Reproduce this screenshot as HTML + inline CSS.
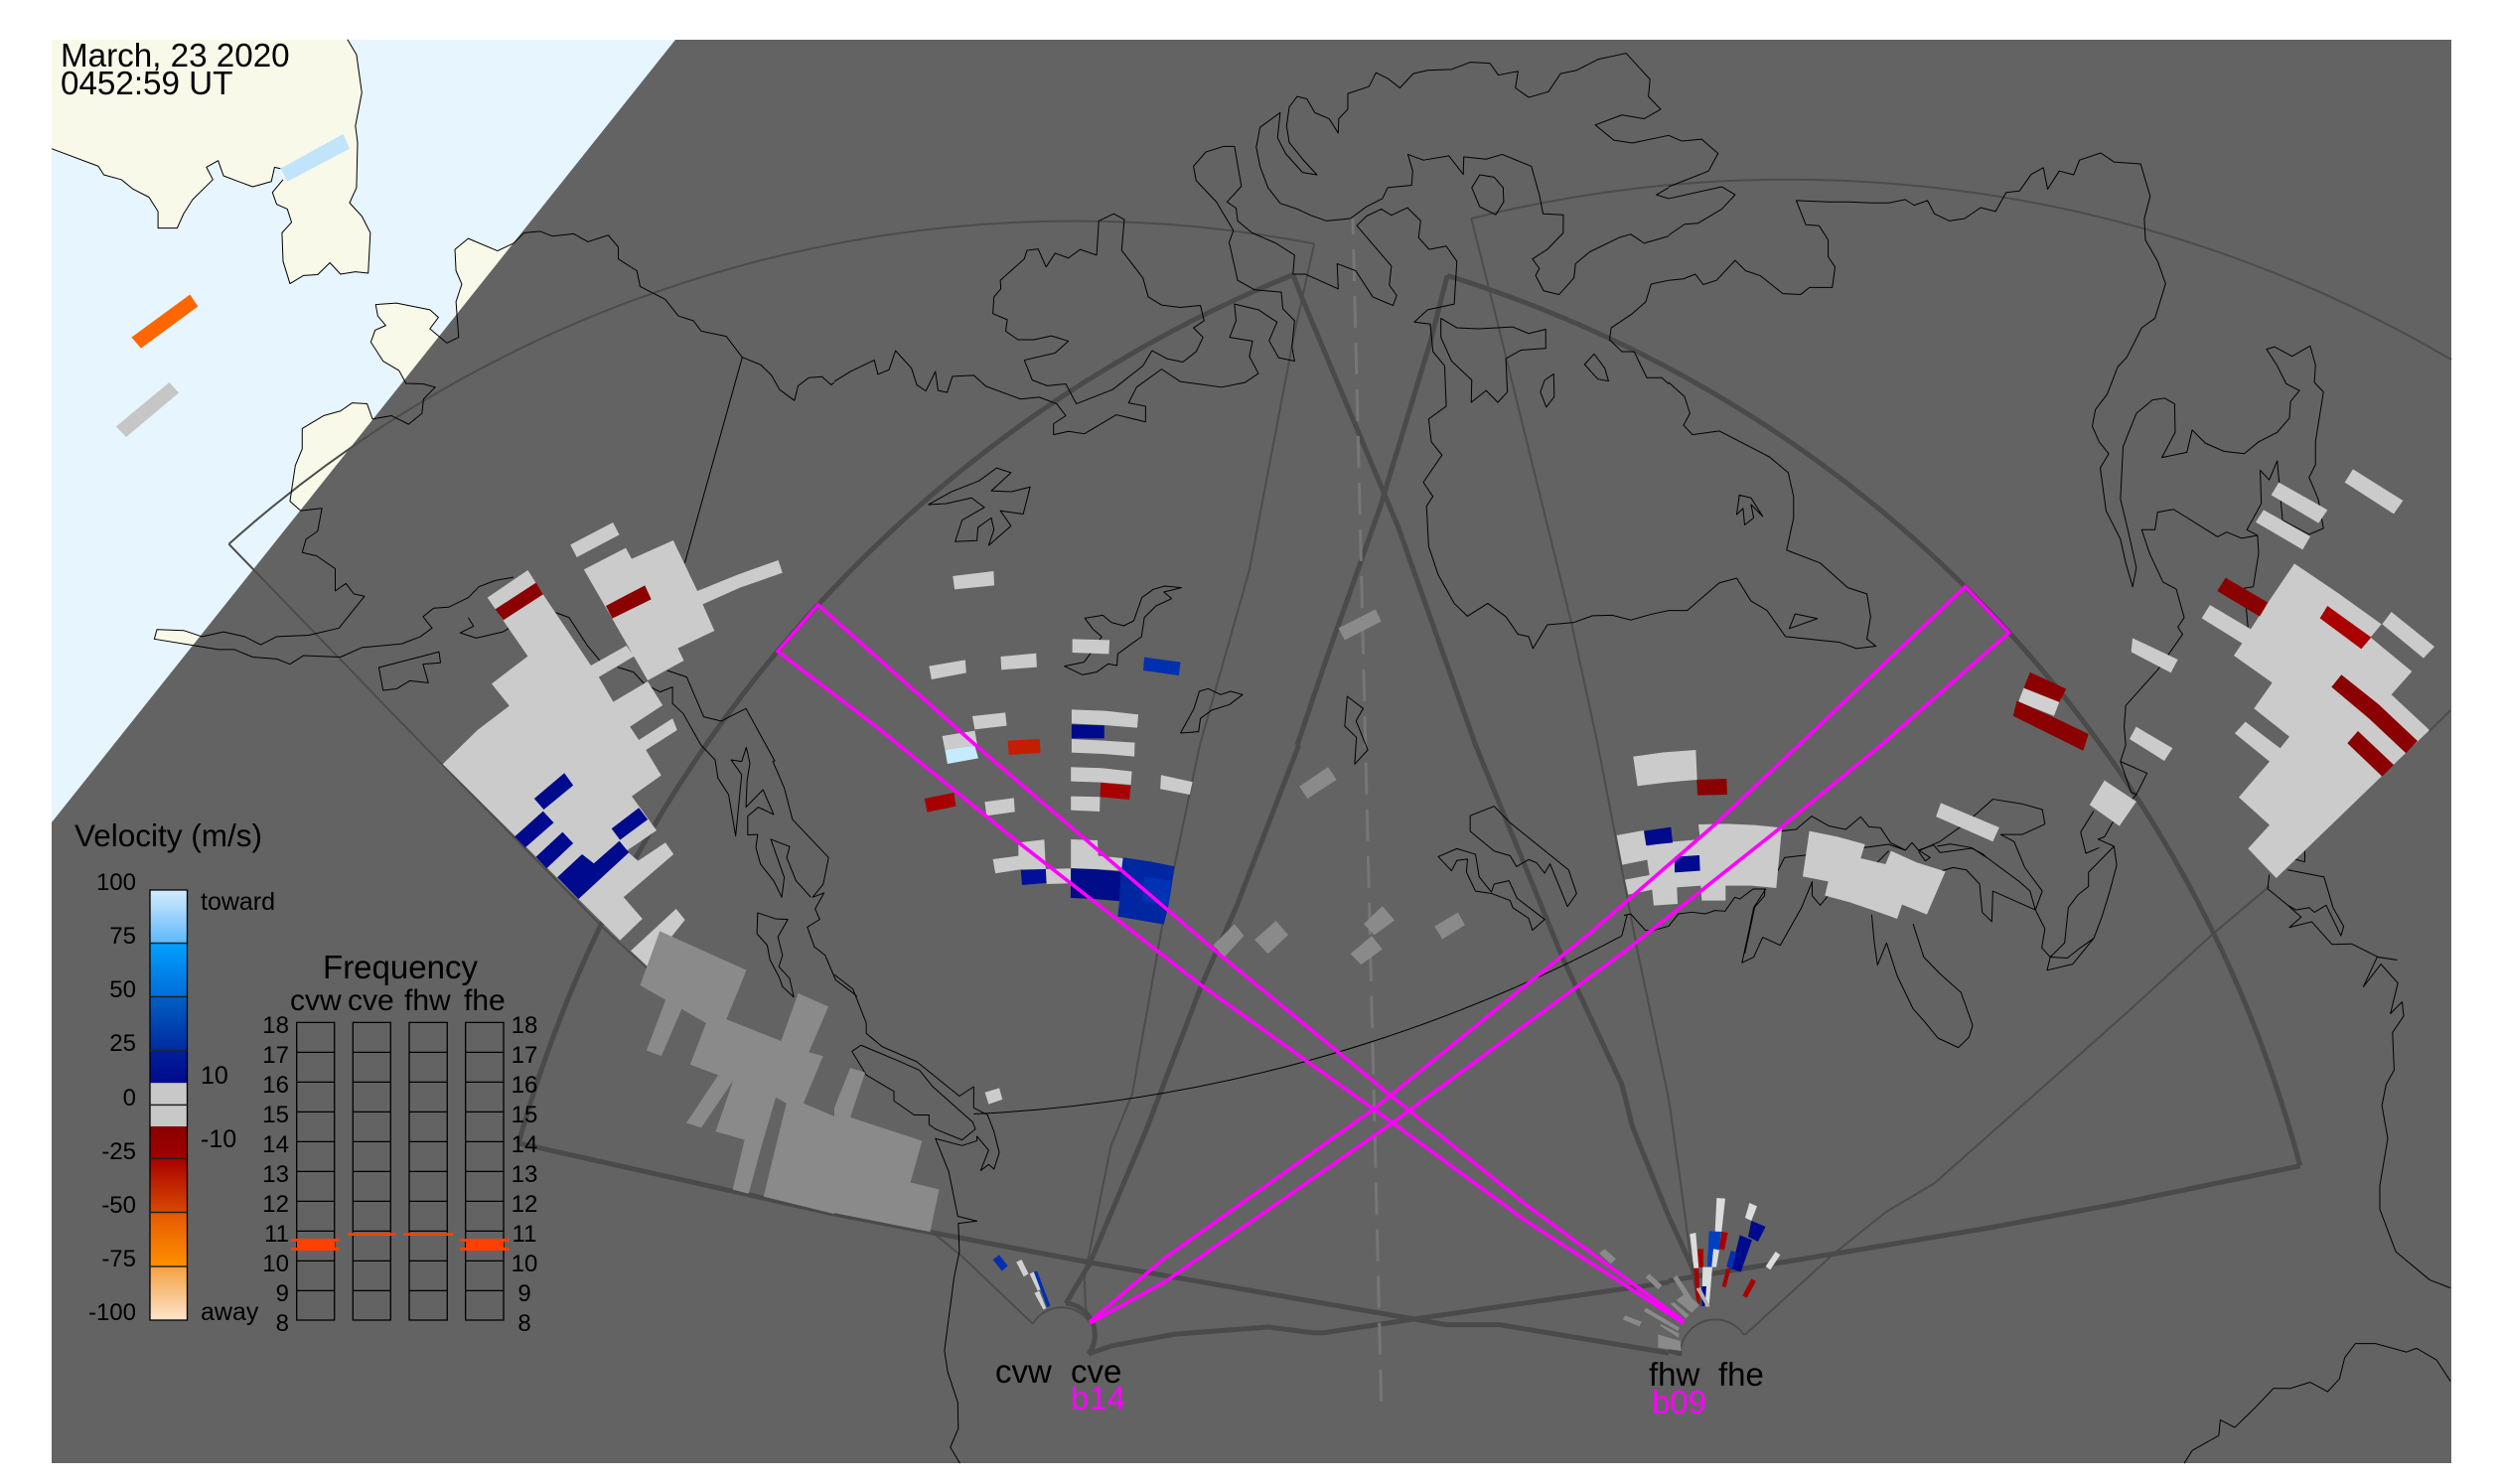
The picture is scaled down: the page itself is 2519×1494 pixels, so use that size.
<!DOCTYPE html>
<html><head><meta charset="utf-8"><title>SuperDARN</title>
<style>
html,body{margin:0;padding:0;background:#fff}
svg{display:block}
polyline,polygon,path,line,rect{vector-effect:non-scaling-stroke}
.c polyline,.c polygon,.c path{fill:none;stroke:#000;stroke-width:1;stroke-linejoin:round}
.k polyline,.k polygon,.k path{fill:none;stroke:#4a4a4a;stroke-width:5;stroke-linejoin:miter}
.t polyline,.t path{fill:none;stroke:#4c4c4c;stroke-width:2}
.g polygon{fill:#cbcbcb}
.d polygon{fill:#8a8a8a}
.n{fill:#000a8c}.b{fill:#0030b0}.r{fill:#8b0000}.r2{fill:#a80000}.w{fill:#dcdcdc}
.m polyline{fill:none;stroke:#ff00ff;stroke-width:3.6;stroke-linejoin:miter}
text{font-family:"Liberation Sans",sans-serif;fill:#000}
.f24{font-size:24px}.f25{font-size:25px}.e{text-anchor:end}.mid{text-anchor:middle}
</style></head><body>
<svg width="2519" height="1494" viewBox="0 0 2519 1494" xmlns="http://www.w3.org/2000/svg">
<defs>
<linearGradient id="cb" gradientUnits="userSpaceOnUse" x1="0" y1="896" x2="0" y2="1329">
<stop offset="0" stop-color="#d4ecfb"/><stop offset=".122" stop-color="#5fb8fb"/>
<stop offset=".123" stop-color="#00a0ff"/><stop offset=".247" stop-color="#006ed8"/>
<stop offset=".248" stop-color="#0060c4"/><stop offset=".373" stop-color="#002aa0"/>
<stop offset=".374" stop-color="#00209a"/><stop offset=".448" stop-color="#000a8c"/>
<stop offset=".449" stop-color="#c8c8c8"/><stop offset=".549" stop-color="#c8c8c8"/>
<stop offset=".55" stop-color="#8b0000"/><stop offset=".623" stop-color="#a00000"/>
<stop offset=".624" stop-color="#a80000"/><stop offset=".748" stop-color="#d84800"/>
<stop offset=".749" stop-color="#e45800"/><stop offset=".873" stop-color="#ff9000"/>
<stop offset=".874" stop-color="#f4a040"/><stop offset="1" stop-color="#fde4cc"/>
</linearGradient>
</defs>
<rect width="2519" height="1494" fill="#fff"/>
<rect x="52" y="40" width="2416" height="1433" fill="#e7f5ff"/>

<!-- land in sunlit area -->
<g transform="scale(.5357,.4783)" fill="#f9f9ea">
<polygon points="97,83 97,313 185,350 195,368 228,378 250,398 280,415 297,445 297,480 333,480 345,450 362,420 400,378 388,352 410,338 420,370 448,382 475,393 510,382 516,352 527,355 532,378 512,405 520,430 540,440 548,468 530,490 532,550 545,597 570,580 597,578 620,553 640,577 668,572 692,575 696,490 680,455 657,427 670,395 672,300 668,265 680,195 670,115 653,83"/>
<polygon points="855,525 880,502 935,528 985,490 1000,600 880,720 862,710 857,635 868,598 857,570"/>
<polygon points="706,641 745,638 808,652 824,668 808,692 840,722 800,800 763,807 750,780 720,760 697,720 705,695 725,685 710,665"/>
<polygon points="700,882 690,850 662,848 640,865 608,875 568,902 568,945 555,980 545,1055 565,1075 700,1000 760,880"/>
<polygon points="295,1325 345,1327 380,1340 400,1340 400,1360 355,1357 290,1345"/>
</g>
<g transform="scale(.5357,.4783)">
<polygon points="527,355 645,282 657,313 540,382" fill="#c2e4fb"/>
<polygon points="247,710 357,620 372,645 265,733" fill="#ff6600"/>
<polygon points="218,898 318,805 336,827 237,920" fill="#c6c6c6"/>
</g>

<!-- dark overlay -->
<polygon points="680,40 2468,40 2468,1473 52,1473 52,828" fill="#636363"/>

<!-- thin fov lines -->
<g class="t">
<path d="M230.4 547.7A1278 1278 0 0 1 1323.2 245.4"/>
<path d="M1481.2 220A1319 1319 0 0 1 2468 362"/>
<path d="M1039.8 1332.7A34 34 0 0 1 1097 1331"/>
<path d="M1692 1360A35 35 0 0 1 1756 1344"/>
<g transform="scale(.5357,.4783)">
<polyline points="795,1568 430,1145"/>
</g>
<g transform="translate(840,0) scale(.5357,.4783)">
<polyline points="902,513 865,700 780,1200 687,1568"/>
<polyline points="1197,460 1240,650 1385,1310 1435,1568"/>
</g>
<g transform="translate(1680,0) scale(.5351,.4783)">
<polyline points="1471,1495 1430,1540"/>
</g>
<g transform="translate(0,750) scale(.5357,.4745)">
<polyline points="795,0 1140,395 1330,590 1568,820"/>
</g>
<g transform="translate(840,750) scale(.5357,.4745)">
<polyline points="0,820 180,1030 240,1085 373,1228"/>
<polyline points="478,1225 472,1190 470,1130 520,850 560,740 620,360 687,0"/>
<polyline points="1435,0 1510,440 1568,750"/>
</g>
<g transform="translate(1680,750) scale(.5351,.4745)">
<polyline points="0,750 25,950 45,1120"/>
<polyline points="1130,300 1025,400 860,570 500,930 410,990 310,1080 143,1252"/>
</g>
</g>

<!-- thick fov lines -->
<g class="k">
<path d="M522 1151A1331 1331 0 0 1 1302 276.5"/>
<path d="M1457 277.4A1281.4 1281.4 0 0 1 2315.7 1173.7"/>
<path d="M1073 1312A32 32 0 0 1 1096 1363"/>
<g transform="translate(840,0) scale(.5357,.4783)">
<polyline points="862,578 880,630 1000,950 1060,1110 1205,1568"/>
<polyline points="1152,580 1120,720 1025,1070 930,1370 870,1568"/>
</g>
<g transform="translate(0,750) scale(.5357,.4745)">
<polyline points="975,845 1568,995"/>
</g>
<g transform="translate(840,750) scale(.5357,.4745)">
<polyline points="0,995 480,1098 1150,1230 1250,1230 1568,1290"/>
<polyline points="1205,0 1370,455 1480,720 1500,810 1568,1000"/>
<polyline points="873,0 755,345 690,510 585,820 480,1100 435,1185"/>
<polyline points="478,1292 520,1275 640,1250 815,1235 900,1247 920,1247 1090,1218 1568,1140"/>
</g>
<g transform="translate(1680,750) scale(.5351,.4745)">
<polyline points="0,1137 320,1078 600,1025 860,970 1188,893"/>
<polyline points="0,1000 45,1110 60,1190"/>
<polyline points="0,1285 25,1292"/>
</g>
</g>

<!-- dashed centre -->
<line x1="1362" y1="220" x2="1390.7" y2="1414" stroke="#767676" stroke-width="3" stroke-dasharray="32 15" stroke-dashoffset="16"/>

<!-- coastlines -->
<g class="c">
<path d="M980.4 1121.5A1546 1546 0 0 0 1632.8 942.2"/>
<g transform="scale(.5357,.4783)">
<polyline points="97,313 185,350 195,368 228,378 250,398 280,415 297,445 297,480 333,480 345,450 362,420 400,378 388,352 410,338 420,370 448,382 475,393 510,382 516,352 527,355"/>
<polyline points="532,378 512,405 520,430 540,440 548,468 530,490 532,550 545,597 570,580 597,578 620,553 640,577 668,572 692,575 696,490 680,455 657,427 670,395 672,300 668,265 680,195 670,115 653,83"/>
<polyline points="1568,805 1562,810 1545,793 1520,795 1500,812 1493,843 1465,820 1450,790 1430,768 1395,752 1365,708 1318,697 1303,675 1275,665 1250,630 1203,603 1197,570 1162,545 1162,520 1143,495 1105,509 1078,492 1038,497 1015,487 985,490 965,512 935,528 880,502 855,525 857,570 868,598 857,635 862,710 840,722 808,692 824,668 808,652 745,638 706,641 710,665 725,685 705,695 697,720 720,760 750,780 763,807 795,808 818,815 796,840 793,870 768,893 736,875 700,882 690,850 662,848 640,865 608,875 568,902 568,945 555,980 545,1055 565,1075 605,1070 597,1118 575,1135 568,1163 595,1170 630,1197 630,1244 650,1228 665,1250 685,1255 637,1322 580,1337 520,1340 490,1357 460,1340 420,1330 380,1340 345,1327 295,1325 290,1345 355,1357 410,1367 440,1367 475,1383 520,1387 545,1398 570,1380 640,1383 680,1363 755,1355 790,1340 812,1322 795,1298 815,1280 843,1278 880,1258 900,1235 930,1222 965,1215"/>
<polyline points="960,1320 945,1330 895,1343 865,1332 890,1318 880,1300"/>
<polygon points="712,1405 825,1372 828,1395 795,1398 805,1437 770,1433 745,1450 720,1453"/>
<polyline points="1395,752 1287,1185"/>
</g>
<g transform="translate(420,500) scale(.3571,.3333)">
<polyline points="390,350 428,365 480,450 515,495"/>
<polyline points="565,515 610,530 640,565 685,590 720,575 720,625 750,655 800,750 840,795 848,850 878,900 898,1025 915,840 885,795 915,800 928,757 938,805 930,860 927,938 975,885 1005,960 962,938 932,965 932,1022 960,1020 955,1060 968,1110 1005,1160 1028,1210 1035,1150 997,1035 1050,1057 1042,1090 1068,1160 1110,1210"/>
<polyline points="705,525 760,545 808,665 858,678 880,665 927,640 1008,798 1003,800 1035,880 1058,975 1160,1090 1145,1170 1115,1210 1147,1197 1122,1245 1135,1277 1100,1300 1120,1360 1150,1385 1180,1460 1230,1500 1240,1510"/>
<polyline points="1062,1512 1050,1455 1020,1420 1030,1385 1017,1330 1045,1277 1010,1275 960,1257 958,1320 987,1355 995,1400 1020,1450 1030,1480 1062,1512"/>
</g>
<g transform="translate(840,750) scale(.5357,.4745)">
<polyline points="0,487 35,518 60,590 60,612 90,640 155,672 235,745 262,725 262,770 288,785 300,820 310,865 300,900 290,890 275,903 290,860 268,830"/>
<polygon points="33,650 50,637 120,670 160,690 185,725 260,800 265,815 240,838 190,815 178,805 178,785 150,785 112,755 112,735 60,700"/>
<polyline points="268,830 268,840 240,850 190,835 215,905 232,1000 268,1010 233,1015 235,1075 225,1130 207,1285 213,1330 232,1395 233,1450 218,1490 236,1524"/>
<polygon points="1195,150 1240,130 1270,165 1380,265 1395,315 1378,343 1345,252 1335,272 1320,250 1305,243 1282,258 1270,235 1240,225 1195,183"/>
<polygon points="1135,237 1170,220 1205,232 1212,280 1235,312 1240,295 1268,288 1283,325 1335,370 1312,393 1305,368 1275,345 1270,330 1235,315 1205,310 1188,270 1190,242 1170,245 1160,267"/>
<polyline points="1480,405 1490,360"/>
</g>
<g transform="translate(840,0) scale(.5357,.4783)">
<polyline points="0,803 30,782 75,758 82,788 103,778 115,738 145,775 155,810 172,823 190,782 195,822 212,826 222,792 262,790 285,813 350,840 385,836 418,850 435,875 412,892 412,915 440,908 470,913 530,873 585,888 585,855 553,848 568,815 615,777 650,803 728,815 772,805 797,786 780,750 786,718 743,710 755,675 752,640 797,652 832,678 817,717 835,753 865,760 860,730 865,675 843,650 840,615 790,610 758,590 742,510 750,485 718,425 680,380 675,350 698,320 732,308 752,308 765,392 738,425 755,438 758,465 785,490 830,512 865,537 862,577 885,577 947,608 945,555 980,570 1012,625 1050,643 1057,622 1043,600 1047,560 982,475 1000,455 1028,440 1047,453 1077,437 1102,465 1098,500 1118,525 1150,518 1170,550 1165,640 1115,652 1090,678 1120,682 1125,740 1147,770 1150,855 1117,882 1122,930 1142,958 1107,1015 1125,1045 1113,1065 1117,1150 1135,1210 1165,1270 1190,1297 1228,1270 1262,1298 1285,1335 1305,1340 1313,1365 1340,1315 1390,1310 1425,1296 1462,1295 1497,1305 1535,1293 1568,1285"/>
<polyline points="1568,285 1500,301 1465,295 1430,263 1480,242 1522,250 1553,230 1530,203 1533,167 1488,112 1435,125 1395,148 1365,155 1342,193 1305,205 1280,185 1285,150 1248,158 1232,133 1195,131 1160,146 1115,148 1088,155 1063,185 1040,165 1018,153 1005,182 965,197 965,230 948,250 947,280 930,250 903,237 888,208 870,203 855,225 850,265 855,300 880,335 907,368 880,363 848,323 833,290 838,237 800,268 793,310 800,350 815,395 838,428 870,440 895,453 925,465 970,460 1000,435 1030,418 1040,395 1085,390 1087,360 1078,325 1107,337 1155,328 1182,367 1183,330 1225,335 1255,325 1310,350 1325,410 1332,450 1370,452 1370,490 1340,525 1312,545 1325,565 1318,580 1333,612 1362,620 1390,585 1393,555 1420,530 1475,500 1497,493 1522,512 1568,497"/>
<polygon points="1213,368 1240,373 1257,395 1258,425 1243,452 1213,435 1198,395"/>
<polygon points="1140,670 1170,690 1210,692 1275,688 1305,702 1337,693 1337,733 1290,737 1262,755 1265,825 1247,847 1225,822 1197,847 1198,800 1160,760 1140,710"/>
<polyline points="1568,590 1535,598 1525,635 1500,660 1460,690 1457,715 1480,740 1503,740 1527,795 1555,795 1568,808"/>
<polygon points="1428,745 1448,775 1455,802 1435,798 1410,767"/>
<polygon points="1352,787 1353,835 1338,857 1327,825 1335,800"/>
<polyline points="1568,395 1545,410 1568,418"/>
<polygon points="497,465 525,450 545,462 540,527 580,585 590,625 615,642 650,647 688,643 695,675 675,690 693,710 680,740 655,762 625,755 597,738 580,770 523,820 455,850 435,808 400,812 372,800 357,758 415,743 440,718 408,707 375,715 345,715 322,697 325,673 298,660 300,625 313,608 312,590 357,545 362,527 383,524 398,562 415,533 440,543 462,525 493,537"/>
<polygon points="177,1062 210,1060 258,1048 282,1068 240,1095 227,1140 268,1138 270,1110 295,1090 300,1115 290,1148 332,1107 312,1075 355,1082 368,1025 333,1035 295,1033 332,995 305,985 272,1012 220,1035"/>
</g>
<g transform="translate(920,560) scale(.3571,.3333)">
<polygon points="482,187 533,178 557,200 592,210 620,195 643,125 675,100 708,90 755,95 705,108 727,128 683,150 650,185 642,243 575,295 573,330 548,325 515,350 475,358 425,332 480,320 497,295 530,243 505,220"/>
<polygon points="805,408 830,400 865,418 893,408 927,418 890,448 840,465 808,490 803,530 752,534 790,460"/>
<polygon points="1222,423 1267,460 1247,497 1280,585 1243,628 1248,547 1215,513"/>
</g>
<g transform="translate(1680,0) scale(.5351,.4783)">
<polyline points="0,285 25,297 62,293 93,323 75,360 30,380 0,393"/>
<polyline points="0,418 100,393 125,410 100,440 55,470 30,472 0,495"/>
<polyline points="0,590 28,587 50,577 65,599 90,590 125,548 145,570 172,580 215,618 248,620 265,605 308,605 313,562 300,540 300,505 283,475 258,473 240,422 300,425 340,425 380,427 415,427 445,420 462,432 487,422 500,450 528,465 557,460 587,437 615,445 635,405 660,402 682,367 705,353 713,398 735,360 762,368 773,337 813,322 838,341 888,345 906,413 895,460 897,505 920,550 935,597 915,670 890,690 862,752 845,772 825,830 803,862 797,897 810,930 828,955 812,985 823,1075 850,1135 860,1185 873,1235 880,1195 865,1120 850,1050 855,940 880,870 910,842 933,838 952,850 953,910 928,963 975,952 985,905 1010,933 1045,950 1083,955 1110,930 1145,910 1168,880 1170,845 1187,822 1162,808 1145,770 1125,735 1140,730 1173,750 1207,728 1217,768 1215,805 1232,825 1217,930 1217,978 1205,1005 1222,1050 1232,1112 1205,1125 1155,1095 1145,970 1130,1010 1113,990 1115,1060 1088,1115 1108,1127 1110,1165 1100,1235 1083,1238 1090,1320"/>
<polyline points="1108,1127 1078,1133 1050,1120 1033,1130 950,1072 920,1078 915,1115 890,1115 905,1165 930,1225 955,1240 970,1300 958,1320 967,1335 920,1410 860,1485 857,1530 860,1568"/>
<polyline points="0,805 30,835 40,870 28,895 45,915 95,907 190,962 225,995 235,1045 235,1090 222,1158 285,1185 337,1237 373,1250 380,1298 373,1345 390,1360 353,1365 322,1352 220,1340 185,1285 155,1265 128,1217 95,1227 35,1285 0,1285"/>
<polygon points="133,1042 155,1048 177,1087 155,1062 160,1090 143,1105 140,1070 128,1083"/>
<polygon points="238,1292 280,1302 227,1323"/>
</g>
<g transform="translate(1600,720) scale(.3333)">
<polyline points="105,605 125,600 170,650 195,650 240,637 270,600 310,595 350,600 380,590 410,592 440,550 455,555 495,525 530,525 530,545 500,580 470,720"/>
<polyline points="580,350 625,345 672,305 725,335 775,345 820,307 845,337 880,340 910,385 955,408 975,385 995,408 1030,430 1015,440 995,412"/>
<polyline points="830,400 905,390 955,408"/>
<polyline points="870,445 905,410"/>
<polyline points="995,408 1040,392 1060,415 1155,402 1190,420 1200,430"/>
<polyline points="570,470 590,430 660,422"/>
</g>
<g transform="translate(1680,750) scale(.5351,.4745)">
<polyline points="183,305 160,345 150,400 138,462 160,450 177,408 210,425 250,345 270,290 270,320 285,340 300,320"/>
<polyline points="382,360 387,420 393,467 410,420 430,490 460,560 480,585 507,622 545,642 565,620 572,595 550,525 510,485 480,450 460,380"/>
<polyline points="490,275 535,260 560,265 585,295 590,355 608,375 610,310 690,350 703,310 670,260 650,205 625,190 665,190 708,168 703,137 665,125 610,115 560,165 510,205 470,225"/>
<polyline points="505,215 530,210 570,218 600,240 660,290 680,310 690,350 708,390 702,430 718,450 750,452 775,430 800,410 815,365 830,310 843,255 838,215 790,270 790,300 770,318 752,345 745,420 718,450 712,478 760,465 800,410"/>
<polyline points="860,0 850,35 900,60 880,105 835,165 820,195 808,200 838,215"/>
<polyline points="850,35 870,100 880,105"/>
<polyline points="800,140 775,185 785,230 810,218"/>
<polyline points="1170,240 1197,248 1197,225"/>
<polyline points="1165,265 1233,280 1250,345 1270,385 1265,405 1237,340 1215,355 1205,345 1180,350 1165,340 1127,305 1130,275"/>
<polyline points="1165,340 1190,365 1168,387 1210,375 1248,423 1285,422 1335,450 1370,456 1333,450 1307,513 1340,465 1372,505 1358,570 1380,545 1383,575 1362,610 1365,690 1350,720 1342,765 1353,835 1338,935 1338,985 1368,1075 1432,1135 1471,1152"/>
<polyline points="970,1524 985,1497 1035,1465 1038,1432 1065,1448 1100,1410 1138,1365 1170,1365 1207,1352 1240,1372 1262,1345 1272,1300 1292,1270 1330,1270 1388,1288 1407,1280 1445,1305 1471,1350"/>
</g>
</g>

<!-- data: left cluster -->
<g transform="translate(420,500) scale(.3571,.3333)">
<g class="g">
<polygon points="72,808 170,705 260,632 210,565 312,482 198,305 312,222 355,295 490,510 590,450 612,482 512,545 553,620 650,558 692,630 600,695 625,735 720,670 733,705 645,765 688,842 605,905 675,1008 590,1070 623,1100 700,1045 723,1080 582,1210 635,1275 572,1340"/>
<polygon points="470,220 588,155 605,188 722,132 790,285 905,235 1018,192 1030,230 910,275 805,325 838,405 735,458 752,495 650,555"/>
<polygon points="432,145 552,78 570,115 450,183"/>
<polygon points="602,1372 730,1245 755,1278 650,1420"/>
</g>
<polygon class="r" points="220,340 335,260 355,295 243,373"/>
<polygon class="r" points="532,330 642,268 660,310 550,368"/>
<polygon class="n" points="330,912 415,835 440,872 357,945"/>
<polygon class="n" points="275,1027 355,950 385,985 305,1060"/>
<polygon class="n" points="335,1088 410,1013 440,1047 365,1123"/>
<polygon class="n" points="395,1150 465,1080 498,1108 570,1040 597,1075 455,1215"/>
<polygon class="n" points="548,1003 625,940 650,975 572,1037"/>
</g>
<!-- dim cells -->
<g class="d">
<g transform="translate(0,750) scale(.5357,.4745)">
<polygon points="1240,395 1403,478 1365,582 1468,628 1500,527 1557,555 1520,652 1547,660 1510,760 1568,788 1568,995 1435,958 1478,760 1458,748 1432,848 1400,838 1345,820 1378,712 1297,678 1327,590 1203,510"/>
<polygon points="1253,535 1285,550 1243,660 1215,648"/>
<polygon points="1350,700 1378,712 1318,812 1290,802"/>
<polygon points="1400,835 1432,848 1407,952 1377,943"/>
</g>
<g transform="translate(840,750) scale(.5357,.4745)">
<polygon points="0,770 30,685 58,695 30,790 165,840 143,928 197,943 180,1033 0,993"/>
<polygon points="712,425 752,380 770,405 733,450"/>
<polygon points="790,413 830,373 853,403 815,443"/>
<polygon points="995,380 1030,342 1053,372 1015,403"/>
<polygon points="970,443 1010,405 1030,433 990,466"/>
<polygon points="1128,385 1172,355 1185,382 1143,412"/>
</g>
<g transform="translate(920,560) scale(.3571,.3333)">
<polygon points="1197,217 1302,160 1318,197 1215,253"/>
<polygon points="1087,695 1168,637 1192,675 1110,732"/>
</g>
</g>
<!-- middle cluster -->
<g transform="translate(920,560) scale(.3571,.3333)">
<g class="g">
<polygon points="110,60 225,45 227,88 115,100"/>
<polygon points="43,332 145,313 148,352 50,372"/>
<polygon points="245,303 345,293 347,335 247,343"/>
<polygon points="447,250 552,253 550,295 447,291"/>
<polygon points="165,483 258,472 262,512 172,523"/>
<polygon points="80,543 172,527 180,575 88,585"/>
<polygon points="445,463 540,467 633,478 630,518 537,510 445,505"/>
<polygon points="445,552 535,557 623,563 622,605 535,597 445,593"/>
<polygon points="443,637 530,640 615,650 612,690 527,683 443,680"/>
<polygon points="697,661 786,682 778,720 695,703"/>
<polygon points="443,725 525,727 524,771 443,767"/>
<polygon points="200,742 282,730 285,772 205,784"/>
<polygon points="295,865 368,856 372,945 302,946 230,958 223,915 295,905"/>
<polygon points="372,945 443,943 443,988 375,990"/>
<polygon points="443,855 518,858 520,905 590,912 588,950 513,945 443,942"/>
</g>
<polygon class="b" points="650,305 752,320 747,360 647,345"/>
<polygon fill="#c6ebff" points="88,585 172,573 182,610 95,627"/>
<polygon fill="#c41e00" points="265,557 355,552 357,594 268,600"/>
<polygon class="n" points="445,508 537,511 537,550 445,550"/>
<polygon class="r2" points="527,684 612,693 608,735 525,727"/>
<polygon class="r2" points="30,732 113,714 119,755 38,773"/>
<polygon fill="#00109a" points="302,948 372,945 373,987 305,993"/>
<polygon fill="#000c88" points="443,943 513,946 585,953 580,1042 510,1035 442,1032"/>
<polygon fill="#0026a2" points="590,910 665,922 735,937 725,1010 717,1060 705,1112 640,1100 575,1088 580,1042 585,953"/>
<polygon fill="#0032b4" points="650,968 727,980 717,1058 645,1040"/>
</g>
<g transform="translate(840,750) scale(.5357,.4745)">
<polygon class="g" fill="#cbcbcb" points="283,737 310,728 316,752 290,762"/>
<polygon class="b" points="298,1092 310,1082 326,1105 315,1116"/>
<polygon fill="#d0d0d0" points="342,1097 352,1092 365,1122 356,1128"/>
<polygon fill="#d0d0d0" points="367,1122 375,1118 388,1155 382,1158"/>
<polygon fill="#d0d0d0" points="376,1163 385,1158 398,1195 393,1198"/>
<polygon class="b" points="375,1118 381,1116 406,1190 400,1193"/>
</g>
<!-- right-of-centre cluster -->
<g transform="translate(1600,720) scale(.3333)">
<g class="g">
<polygon fill="#d0d0d0" points="133,125 225,112 322,105 326,195 235,203 146,214"/>
<polygon points="83,363 165,348 175,395 253,382 335,375 330,330 415,328 500,332 582,340 565,522 490,515 412,515 412,560 340,560 337,515 265,520 267,570 195,575 190,527 118,542 108,497 182,483 175,437 100,452"/>
<polygon points="665,350 750,367 833,390 820,432 895,450 912,410 990,445 1076,472 1020,602 945,572 930,615 860,590 787,565 712,545 722,502 645,487"/>
</g>
<polygon class="r" points="325,195 415,192 417,240 327,242"/>
<polygon class="n" points="165,350 247,338 252,385 172,393"/>
<polygon class="n" points="258,428 333,423 335,470 258,475"/>
</g>
<g transform="translate(1680,750) scale(.5351,.4745)">
<polygon fill="#cbcbcb" points="512,123 622,175 610,205 503,152"/>
<polygon fill="#cbcbcb" points="820,75 880,120 848,172 792,127"/>
</g>
<g transform="translate(1680,0) scale(.5351,.4783)">
<polygon class="r" points="680,1415 748,1450 735,1478 668,1448"/>
<polygon fill="#d0d0d0" points="668,1448 735,1478 725,1507 658,1477"/>
<polygon class="r" points="655,1475 725,1510 790,1545 780,1580 648,1507"/>
</g>
<!-- far right cluster -->
<g transform="translate(2150,460) scale(.3333)">
<g class="g">
<polygon points="480,322 610,410 743,505 710,545 835,648 773,718 888,825 425,1272 340,1183 405,1112 312,1028 405,920 300,835 332,800 437,880 465,845 358,760 413,682 297,600 322,563 200,487 225,447 348,520 400,440"/>
<polygon points="773,468 903,573 870,608 745,505"/>
<polygon points="410,115 433,77 580,160 553,200"/>
<polygon points="363,197 387,160 528,240 505,280"/>
<polygon points="657,37 808,132 780,172 632,77"/>
<polygon points="-9,547 128,612 107,652 -13,589"/>
<polygon points="2,815 112,880 87,918 -18,852"/>
</g>
<polygon class="r" points="272,365 400,440 375,482 247,405"/>
<polygon fill="#aa0000" points="580,450 712,545 682,580 557,487"/>
<polygon class="r" points="622,658 735,748 852,858 817,895 705,790 592,695"/>
<polygon class="r" points="672,828 780,930 745,965 640,865"/>
</g>
<!-- FH site -->
<g transform="translate(1600,1180) scale(.3333)">
<g class="d">
<polygon points="30,245 47,232 81,262 65,277"/>
<polygon points="170,318 182,307 220,342 208,354"/>
<polygon points="253,320 265,312 310,380 298,390"/>
<polygon points="263,387 292,365 333,402 310,425"/>
<polygon points="245,398 255,393 302,432 292,442"/>
<polygon points="165,420 172,410 273,470 268,480"/>
<polygon points="102,445 108,433 158,452 152,466"/>
<polygon points="213,463 218,460 272,488 270,500"/>
<polygon points="208,490 275,510 278,540 208,530"/>
</g>
<polygon class="w" points="385,78 411,80 400,180 380,180"/>
<polygon class="w" points="484,93 507,103 490,147 471,138"/>
<polygon fill="#0040c0" points="362,178 398,180 393,235 375,232 370,287 357,285"/>
<polygon class="r2" points="400,180 419,183 408,235 393,233"/>
<polygon class="w" points="375,232 393,235 384,287 370,287"/>
<polygon class="n" points="490,147 533,165 510,210 480,195"/>
<polygon class="n" points="455,190 492,205 458,302 430,292"/>
<polygon class="b" points="428,237 445,243 430,295 415,285"/>
<polygon class="r2" points="415,290 427,293 413,348 401,345"/>
<polygon class="r2" points="490,322 504,330 476,380 463,373"/>
<polygon class="w" points="563,240 577,250 547,295 533,285"/>
<polygon class="w" points="304,187 322,183 331,290 316,290"/>
<polygon class="r2" points="327,233 345,232 345,287 331,288"/>
<polygon class="r2" points="316,292 331,290 335,400 323,385"/>
<polygon class="w" points="343,287 372,287 362,405 340,405"/>
<polygon class="n" points="340,345 354,345 350,405 340,405"/>
<polygon fill="#b0b0b0" points="323,352 335,348 365,405 355,408"/>
</g>

<!-- magenta beams -->
<g class="m">
<polyline points="1695,1330 1536,1212.6 1401,1103.5 1228,961 984,751.7 823.6,609 783,655.7 884,733 1023.6,846.7 1209.6,992 1401,1129.6 1536,1229 1695,1332"/>
<polyline points="1097,1331 1172,1267 1383.7,1116 1600,940 1726.7,830 1811,750 1978.6,590.7 2022.5,637 1894,750 1793,833 1633,960 1401,1131 1172,1291 1097,1332"/>
</g>

<!-- top-left text -->
<text x="61" y="67" font-size="33.2">March, 23 2020</text>
<text x="61" y="95" font-size="33.2">0452:59 UT</text>

<!-- velocity legend -->
<text x="75" y="852" font-size="31.5">Velocity (m/s)</text>
<rect x="151" y="896" width="37.5" height="433" fill="url(#cb)" stroke="#000" stroke-width="1.3"/>
<g stroke="#222" stroke-width="1.5">
<line x1="151" x2="188.5" y1="949.5" y2="949.5"/><line x1="151" x2="188.5" y1="1003.5" y2="1003.5"/>
<line x1="151" x2="188.5" y1="1058" y2="1058"/><line x1="151" x2="188.5" y1="1112.4" y2="1112.4"/>
<line x1="151" x2="188.5" y1="1166.4" y2="1166.4"/><line x1="151" x2="188.5" y1="1220.5" y2="1220.5"/>
<line x1="151" x2="188.5" y1="1275" y2="1275"/>
</g>
<g class="f24 e">
<text x="137" y="896">100</text><text x="137" y="950">75</text><text x="137" y="1004">50</text>
<text x="137" y="1058">25</text><text x="137" y="1113">0</text><text x="137" y="1167">-25</text>
<text x="137" y="1221">-50</text><text x="137" y="1275">-75</text><text x="137" y="1329">-100</text>
</g>
<g class="f25">
<text x="202" y="916">toward</text><text x="202" y="1091">10</text><text x="202" y="1155">-10</text><text x="202" y="1329">away</text>
</g>

<!-- frequency -->
<text x="403" y="985" font-size="33" class="mid">Frequency</text>
<g font-size="30">
<text x="292" y="1017">cvw</text><text x="350" y="1017">cve</text><text x="407" y="1017">fhw</text><text x="467" y="1017">fhe</text>
</g>
<g fill="none" stroke="#000" stroke-width="1.3">
<path d="M298.7 1029.4H336.7V1329H298.7ZM298.7 1059.4H336.7M298.7 1089.4H336.7M298.7 1119.4H336.7M298.7 1149.4H336.7M298.7 1179.4H336.7M298.7 1209.4H336.7M298.7 1239.4H336.7M298.7 1269.4H336.7M298.7 1299.4H336.7"/>
<path d="M355.3 1029.4H393.3V1329H355.3ZM355.3 1059.4H393.3M355.3 1089.4H393.3M355.3 1119.4H393.3M355.3 1149.4H393.3M355.3 1179.4H393.3M355.3 1209.4H393.3M355.3 1239.4H393.3M355.3 1269.4H393.3M355.3 1299.4H393.3"/>
<path d="M412 1029.4H450.3V1329H412ZM412 1059.4H450.3M412 1089.4H450.3M412 1119.4H450.3M412 1149.4H450.3M412 1179.4H450.3M412 1209.4H450.3M412 1239.4H450.3M412 1269.4H450.3M412 1299.4H450.3"/>
<path d="M468.7 1029.4H507V1329H468.7ZM468.7 1059.4H507M468.7 1089.4H507M468.7 1119.4H507M468.7 1149.4H507M468.7 1179.4H507M468.7 1209.4H507M468.7 1239.4H507M468.7 1269.4H507M468.7 1299.4H507"/>
</g>
<g fill="#ff4000">
<rect x="299" y="1247" width="38" height="12"/>
<rect x="293" y="1247" width="48.5" height="3"/><rect x="293" y="1256" width="48.5" height="3"/>
<rect x="469" y="1247" width="38" height="12"/>
<rect x="463.3" y="1247" width="49.4" height="3"/><rect x="463.3" y="1256" width="49.4" height="3"/>
<rect x="350" y="1241" width="49" height="3"/><rect x="406" y="1241" width="50" height="3"/>
</g>
<g class="f24 e">
<text x="291" y="1040">18</text><text x="291" y="1070">17</text><text x="291" y="1100">16</text><text x="291" y="1130">15</text><text x="291" y="1160">14</text><text x="291" y="1190">13</text><text x="291" y="1220">12</text><text x="291" y="1250">11</text><text x="291" y="1280">10</text><text x="291" y="1310">9</text><text x="291" y="1340">8</text>
</g>
<g class="f24 mid">
<text x="528" y="1040">18</text><text x="528" y="1070">17</text><text x="528" y="1100">16</text><text x="528" y="1130">15</text><text x="528" y="1160">14</text><text x="528" y="1190">13</text><text x="528" y="1220">12</text><text x="528" y="1250">11</text><text x="528" y="1280">10</text><text x="528" y="1310">9</text><text x="528" y="1340">8</text>
</g>

<!-- site labels -->
<g font-size="33">
<text x="1002" y="1392">cvw</text><text x="1078" y="1392">cve</text>
<text x="1078" y="1419" style="fill:#ff00ff">b14</text>
<text x="1660" y="1395">fhw</text><text x="1730" y="1395">fhe</text>
<text x="1663" y="1423" style="fill:#ff00ff">b09</text>
</g>
</svg>
</body></html>
